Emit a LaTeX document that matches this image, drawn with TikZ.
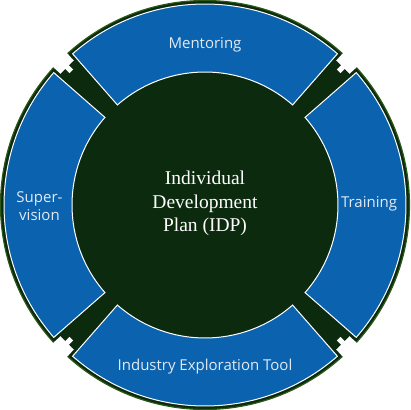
\documentclass[tikz,border=0pt]{standalone}
\usepackage{fontspec}
\setmainfont{Liberation Serif}
\setsansfont{Open Sans}
\definecolor{idpgreen}{HTML}{0C2A0E}
\definecolor{idprim}{HTML}{2C5A16}
\definecolor{idpblue}{HTML}{0B62AE}
\definecolor{idptext}{HTML}{E2EAF3}
\tikzset{
  segment/.style={fill=idpblue,draw=white,line width=1pt},
  rimedge/.style={draw=idprim,line width=1.2pt},
  seglabel/.style={font=\sffamily\fontsize{15}{18}\selectfont,text=idptext,align=center},
  corelabel/.style={font=\fontsize{19.5}{23.5}\selectfont,text=white,align=center}
}
\begin{document}
\begin{tikzpicture}[x=1pt,y=1pt]
\useasboundingbox (-205,-205) rectangle (205,205);
% dark core with the rim round each segment
\fill[idpgreen] (0,0) circle (195);
\foreach \a/\b in {-42.2/42.2,47.8/132.2,137.8/222.2,227.8/312.2}{
  \fill[idpgreen] (0,0) -- (\a:204.5) arc[start angle=\a,end angle=\b,radius=204.5] -- cycle;
  \draw[rimedge] (\a:204.5) arc[start angle=\a,end angle=\b,radius=204.5];
}
% notches in the gaps
\foreach \c in {45,135,225,315}
  \fill[white,rotate=\c] (189,-2.5) rectangle (196,2.5);
% blue segments
\foreach \a/\b in {-41.2/41.2,48.8/131.2,138.8/221.2,228.8/311.2}
  \draw[segment] (\a:201) arc[start angle=\a,end angle=\b,radius=201]
    -- (\b:133) arc[start angle=\b,end angle=\a,radius=133] -- cycle;
% labels
\node[seglabel] (mentor) at (0,160) {Mentoring};
\node[seglabel] (train) at (164,1) {Training};
\node[seglabel] (super) at (-165.5,-1) {Super-\\vision};
\node[seglabel] (industry) at (0,-162) {Industry Exploration Tool};
\node[corelabel] (idp) at (0,1.5) {Individual\\Development\\Plan (IDP)};
\end{tikzpicture}
\end{document}
